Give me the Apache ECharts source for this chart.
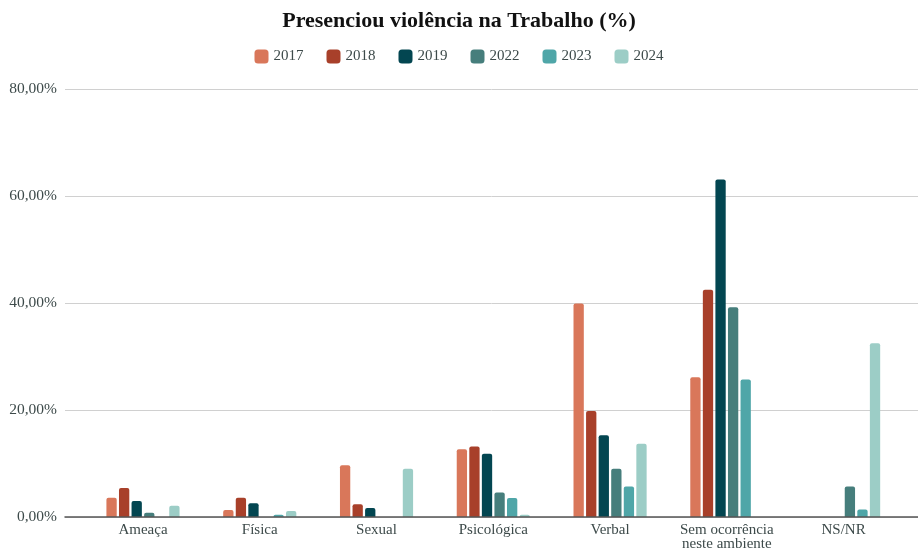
<!DOCTYPE html>
<html>
<head>
<meta charset="utf-8">
<script src="https://cdn.jsdelivr.net/npm/echarts@6/dist/echarts.min.js"></script>
<style>html,body{margin:0;padding:0;background:#fff;}#c{width:918px;height:550px;}</style>
</head>
<body>
<div id="c"></div>
<script>
const categories = ['Ameaça', 'Física', 'Sexual', 'Psicológica', 'Verbal', 'Sem ocorrência\nneste ambiente', 'NS/NR'];
const years = ['2017', '2018', '2019', '2022', '2023', '2024'];
const v2017 = [3.6, 1.3, 9.65, 12.65, 39.9, 26.1, null];
const v2018 = [5.4, 3.6, 2.4, 13.2, 19.8, 42.5, null];
const v2019 = [3.0, 2.55, 1.7, 11.8, 15.3, 63.1, null];
const v2022 = [0.8, null, null, 4.6, 9.0, 39.2, 5.7];
const v2023 = [null, 0.4, null, 3.55, 5.7, 25.7, 1.4];
const v2024 = [2.1, 1.1, 9.0, 0.4, 13.7, null, 32.5];
const yTicks = [0, 20, 40, 60, 80];

const seriesValues = [v2017, v2018, v2019, v2022, v2023, v2024];
const colors = ['#D9775A', '#A8402A', '#034651', '#467E7C', '#4FA6A8', '#9CCDC6'];
const font = "'Liberation Serif', 'DejaVu Serif', serif";
const textColor = '#3d4a4a';

const chart = echarts.init(document.getElementById('c'));
chart.setOption({
  animation: false,
  textStyle: { fontFamily: font },
  title: {
    text: 'Presenciou violência na Trabalho (%)',
    left: 'center', top: 5,
    textStyle: { fontFamily: font, fontWeight: 'bold', fontSize: 22, color: '#111' }
  },
  legend: {
    top: 44, left: 'center',
    itemWidth: 14, itemHeight: 14, itemGap: 23,
    icon: 'roundRect',
    data: years,
    textStyle: { fontFamily: font, fontSize: 15, color: textColor }
  },
  grid: [
    { left: 65, right: 0, top: 89, bottom: 33, outerBoundsMode: 'none', containLabel: false },
    { left: 84.6, right: 16, top: 89, bottom: 33, outerBoundsMode: 'none', containLabel: false }
  ],
  xAxis: [
    { type: 'category', gridIndex: 0, data: categories, axisLabel: { show: false }, axisTick: { show: false },
      axisLine: { lineStyle: { color: '#555', width: 1.5 } }, z: 10 },
    { type: 'category', gridIndex: 1, data: categories, axisTick: { show: false }, axisLine: { show: false },
      axisLabel: { fontFamily: font, fontSize: 15, color: textColor, margin: 6, lineHeight: 14, interval: 0 } }
  ],
  yAxis: [
    { type: 'value', gridIndex: 0, min: 0, max: 80, interval: 20,
      axisLabel: { fontFamily: font, fontSize: 15.5, color: textColor, margin: 8,
        formatter: v => v.toFixed(2).replace('.', ',') + '%' },
      splitLine: { lineStyle: { color: '#d0d0d0', width: 1 } },
      axisLine: { show: false }, axisTick: { show: false } },
    { type: 'value', gridIndex: 1, min: 0, max: 80, interval: 20, show: false, splitLine: { show: false } }
  ],
  series: years.map((y, i) => ({
    name: y, type: 'bar', xAxisIndex: 1, yAxisIndex: 1,
    data: seriesValues[i], barWidth: 10.3, barGap: '22%',
    itemStyle: { color: colors[i], borderRadius: [2, 2, 0, 0] }
  }))
});
</script>
</body>
</html>
